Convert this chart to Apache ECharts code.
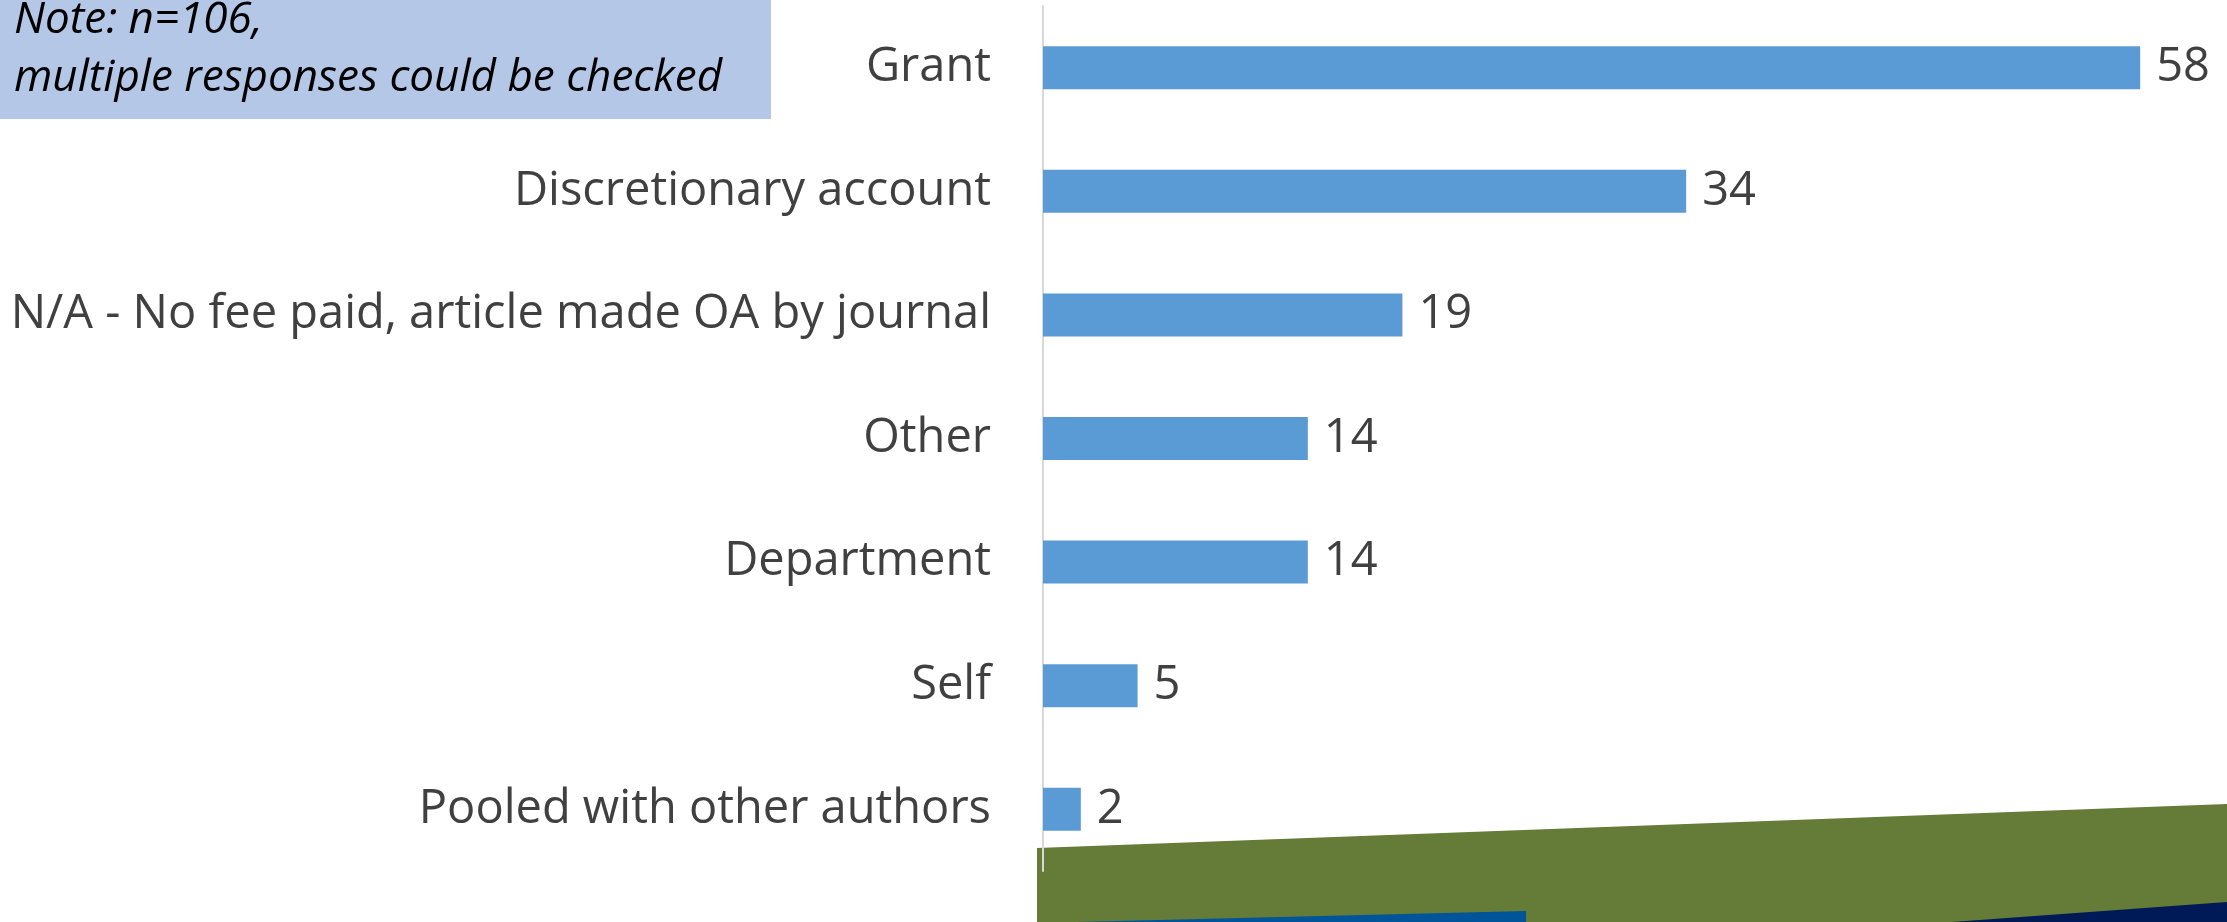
<!DOCTYPE html>
<html>
<head>
<meta charset="utf-8">
<script src="https://cdn.jsdelivr.net/npm/echarts@6/dist/echarts.min.js"></script>
<style>
  html, body { margin: 0; padding: 0; background: #fff; }
  #chart { width: 2227px; height: 922px; }
</style>
</head>
<body>
<div id="chart"></div>
<script>
const categories = [
  'Grant',
  'Discretionary account',
  'N/A - No fee paid, article made OA by journal',
  'Other',
  'Department',
  'Self',
  'Pooled with other authors'
]
const counts = [58, 34, 19, 14, 14, 5, 2]
const noteLines = ['Note: n=106,', 'multiple responses could be checked']

const chart = echarts.init(document.getElementById('chart'))

const labelFont = '"Open Sans", "DejaVu Sans", sans-serif'

const option = {
  backgroundColor: '#fff',
  animation: false,
  grid: { left: 1043, right: 49, top: 6, bottom: 51 },
  xAxis: {
    type: 'value',
    min: 0,
    max: 60,
    show: false
  },
  yAxis: {
    type: 'category',
    data: categories,
    inverse: true,
    axisLine: { show: true, lineStyle: { color: '#d9d9d9', width: 2 } },
    axisTick: { show: false },
    axisLabel: {
      color: '#404040', fontSize: 47, fontFamily: labelFont, margin: 52,
      padding: [12, 0, 0, 0]
    }
  },
  series: [{
    type: 'bar',
    data: counts,
    barWidth: 43,
    itemStyle: { color: '#5b9bd5' },
    label: {
      show: true,
      position: 'right',
      distance: 16,
      color: '#404040',
      fontSize: 47,
      fontFamily: labelFont,
      padding: [12, 0, 0, 0]
    }
  }],
  graphic: [
    // slide decoration along the bottom
    {
      type: 'polygon', z: -1,
      shape: { points: [[1037, 848], [2227, 804], [2227, 922], [1037, 922]] },
      style: { fill: '#657b38' }
    },
    {
      type: 'polygon', z: -1,
      shape: { points: [[1077, 922], [1526, 911], [1526, 922]] },
      style: { fill: '#00549a' }
    },
    {
      type: 'polygon', z: -1,
      shape: { points: [[1952, 922], [2227, 902], [2227, 922]] },
      style: { fill: '#001a57' }
    },
    // note box
    {
      type: 'rect', z: 10,
      shape: { x: 0, y: 0, width: 771, height: 119 },
      style: { fill: '#b4c7e7' }
    },
    {
      type: 'text', z: 11, left: 14, top: -9,
      style: {
        text: noteLines.join('\n'),
        fill: '#000',
        font: 'italic 44px "Open Sans", sans-serif',
        lineHeight: 58
      }
    }
  ]
}

chart.setOption(option)
</script>
</body>
</html>
